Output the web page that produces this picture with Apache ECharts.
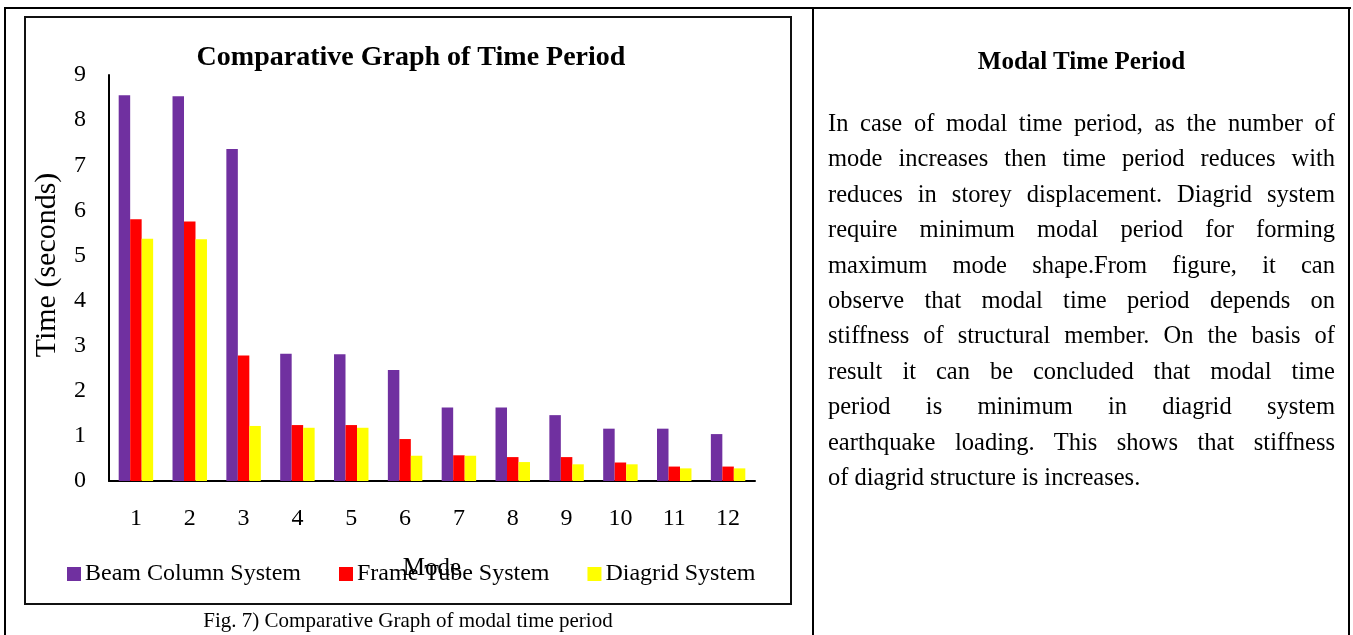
<!DOCTYPE html>
<html>
<head>
<meta charset="utf-8">
<script src="https://cdn.jsdelivr.net/npm/echarts@6/dist/echarts.min.js"></script>
<style>
  html, body { margin: 0; padding: 0; background: #fff; }
  body { width: 1353px; height: 635px; position: relative; overflow: hidden; font-family: "Liberation Serif", "Times New Roman", serif; color: #000; }
  #chart { position: absolute; left: 0; top: 0; width: 1353px; height: 635px; }
  .line { position: absolute; background: #000; z-index: 5; }
  #innerBox { position: absolute; left: 24px; top: 16px; width: 764px; height: 585px; border: 2px solid #111; z-index: 5; }
  #caption { position: absolute; left: 25px; width: 766px; top: 607px; text-align: center; font-size: 21px; line-height: 26px; z-index: 6; }
  #sideTitle { position: absolute; left: 828px; width: 507px; top: 45px; text-align: center; font-weight: bold; font-size: 25px; line-height: 32px; }
  #para { position: absolute; left: 828px; width: 507px; top: 105px; font-size: 24.5px; line-height: 35.4px; }
  #para div { text-align: justify; text-align-last: justify; white-space: nowrap; }
  #para div.last { text-align: left; text-align-last: left; }
</style>
</head>
<body>
<div id="chart"></div>
<div class="line" style="left:4px; top:7px; width:1347px; height:2px;"></div>
<div class="line" style="left:4px; top:7px; width:2px; height:640px;"></div>
<div class="line" style="left:812px; top:7px; width:2px; height:640px;"></div>
<div class="line" style="left:1348px; top:7px; width:2px; height:640px;"></div>
<div id="innerBox"></div>
<div id="caption">Fig. 7) Comparative Graph of modal time period</div>
<div id="sideTitle">Modal Time Period</div>
<div id="para"></div>
<script>
// ---- data ----
var modes = ['1', '2', '3', '4', '5', '6', '7', '8', '9', '10', '11', '12'];
var beamColumn = [8.55, 8.53, 7.36, 2.82, 2.81, 2.46, 1.63, 1.63, 1.46, 1.16, 1.16, 1.04];
var frameTube  = [5.80, 5.75, 2.78, 1.24, 1.24, 0.93, 0.57, 0.53, 0.53, 0.41, 0.32, 0.32];
var diagrid    = [5.37, 5.36, 1.22, 1.18, 1.18, 0.56, 0.56, 0.42, 0.37, 0.37, 0.28, 0.28];
var seriesNames = ['Beam Column System', 'Frame Tube System', 'Diagrid System'];
var chartTitle = 'Comparative Graph of Time Period';
var yAxisName = 'Time (seconds)';
var xAxisName = 'Mode';
var paragraphLines = [
  'In case of modal time period, as the number of',
  'mode increases then time period reduces with',
  'reduces in storey displacement. Diagrid system',
  'require minimum modal period for forming',
  'maximum mode shape.From figure, it can',
  'observe that modal time period depends on',
  'stiffness of structural member. On the basis of',
  'result it can be concluded that modal time',
  'period is minimum in diagrid system',
  'earthquake loading. This shows that stiffness',
  'of diagrid structure is increases.'
];

var para = document.getElementById('para');
paragraphLines.forEach(function (t, i) {
  var d = document.createElement('div');
  d.textContent = t;
  if (i === paragraphLines.length - 1) d.className = 'last';
  para.appendChild(d);
});

var FONT = 'Liberation Serif';
var chart = echarts.init(document.getElementById('chart'), null, { renderer: 'canvas' });
chart.setOption({
  animation: false,
  backgroundColor: 'transparent',
  title: {
    text: chartTitle,
    left: 411, top: 44, padding: 0,
    textAlign: 'center',
    textStyle: { fontFamily: FONT, fontWeight: 'bold', fontSize: 28, color: '#000' }
  },
  legend: {
    data: seriesNames,
    left: 67, top: 562, padding: 0,
    itemWidth: 14, itemHeight: 14, itemGap: 38,
    icon: 'rect',
    textStyle: { fontFamily: FONT, fontSize: 24, color: '#000', padding: [0, 0, 0, -1] }
  },
  grid: { left: 109, top: 75, right: 598, bottom: 154, containLabel: false },
  xAxis: {
    type: 'category',
    data: modes,
    name: xAxisName,
    nameLocation: 'middle',
    nameGap: 75,
    nameTextStyle: { fontFamily: FONT, fontSize: 25, color: '#000' },
    axisLine: { show: true, lineStyle: { color: '#000', width: 2 } },
    axisTick: { show: false },
    axisLabel: { margin: 26, fontFamily: FONT, fontSize: 24, color: '#000' },
    splitLine: { show: false }
  },
  yAxis: {
    type: 'value',
    min: 0, max: 9, interval: 1,
    name: yAxisName,
    nameLocation: 'middle',
    nameGap: 47,
    nameRotate: 90,
    nameTextStyle: { fontFamily: FONT, fontSize: 30, color: '#000', padding: [0, 0, 0, 26] },
    axisLine: { show: true, lineStyle: { color: '#000', width: 2 } },
    axisTick: { show: false },
    axisLabel: { margin: 23, fontFamily: FONT, fontSize: 24, color: '#000' },
    splitLine: { show: false }
  },
  series: [
    { name: seriesNames[0], type: 'bar', data: beamColumn, barGap: '0%', barCategoryGap: '36%', itemStyle: { color: '#7030A0' } },
    { name: seriesNames[1], type: 'bar', data: frameTube, barGap: '0%', barCategoryGap: '36%', itemStyle: { color: '#FF0000' } },
    { name: seriesNames[2], type: 'bar', data: diagrid, barGap: '0%', barCategoryGap: '36%', itemStyle: { color: '#FFFF00' } }
  ]
});
</script>
</body>
</html>
